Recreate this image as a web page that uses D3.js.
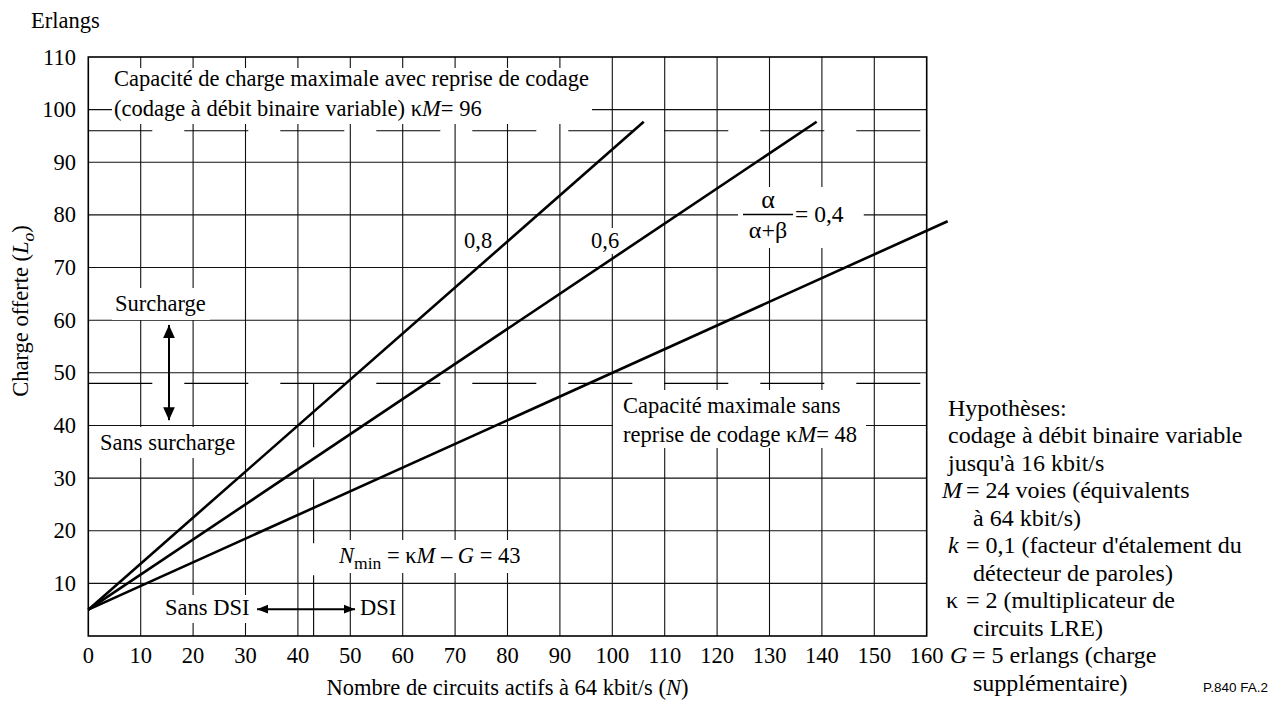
<!DOCTYPE html>
<html><head><meta charset="utf-8">
<script src="https://cdn.jsdelivr.net/npm/d3@7"></script>
<style>
html,body{margin:0;padding:0;background:#fff;}
svg{display:block;}
svg text.serif{font-family:"Liberation Serif","Times New Roman",serif;}
svg text.sans{font-family:"Liberation Sans",Arial,sans-serif;}
</style></head><body>
<svg id="c" width="1276" height="706"></svg>
<script>
// ---- data ----
const xTicks = [0,10,20,30,40,50,60,70,80,90,100,110,120,130,140,150,160];
const yTicks = [10,20,30,40,50,60,70,80,90,100,110];
const ratioLabels = ["0,8","0,6","0,4"];
const startN = [0,0,0];
const startL = [5,5,5];
const endN = [106,139,164];
const endL = [97.7,97.7,78.8];
const capacityLevels = [96,48];   // κM avec / sans reprise de codage
const nMin = 43;

const FS = 22.5;
const svg = d3.select("#c");
const x = d3.scaleLinear().domain([0,160]).range([88.3,926.7]);
const y = d3.scaleLinear().domain([0,110]).range([636,57]);

// grid
const grid = svg.append("g").attr("stroke","#111").attr("stroke-width",1.1);
grid.selectAll("line.v").data(xTicks.filter(d=>d>0&&d<160)).join("line")
  .attr("x1",d=>x(d)).attr("x2",d=>x(d)).attr("y1",y(0)).attr("y2",y(110));
grid.selectAll("line.h").data(yTicks.filter(d=>d<110)).join("line")
  .attr("y1",d=>y(d)).attr("y2",d=>y(d)).attr("x1",x(0)).attr("x2",x(160));

// dashed capacity lines
svg.append("g").selectAll("line").data(capacityLevels).join("line")
  .attr("x1",x(0)).attr("x2",x(160)).attr("y1",d=>y(d)).attr("y2",d=>y(d))
  .attr("stroke","#000").attr("stroke-width",1.1).attr("stroke-dasharray","64 32");
svg.append("line").attr("x1",x(nMin)).attr("x2",x(nMin))
  .attr("y1",y(capacityLevels[1])).attr("y2",y(0))
  .attr("stroke","#000").attr("stroke-width",1.1).attr("stroke-dasharray","64 32");

// border
svg.append("rect").attr("x",x(0)).attr("y",y(110)).attr("width",x(160)-x(0)).attr("height",y(0)-y(110))
  .attr("fill","none").attr("stroke","#000").attr("stroke-width",1.6);

// helpers
function rich(sel, parts, fs){
  let shift = 0;
  parts.forEach(p=>{
    if (typeof p === "string") p = {t:p};
    const ts = sel.append("tspan").text(p.t);
    if (p.i) ts.attr("font-style","italic");
    const want = p.sub ? 6 : 0;
    if (want !== shift){ ts.attr("dy", want-shift); shift = want; }
    ts.attr("font-size", (p.sub ? fs*0.78 : fs)+"px");
  });
}
function boxed(build, pad){
  const g = svg.append("g");
  const inner = g.append("g");
  build(inner);
  const b = inner.node().getBBox();
  g.insert("rect",":first-child").attr("fill","#fff")
    .attr("x",b.x-pad[0]).attr("y",b.y-pad[2])
    .attr("width",b.width+pad[0]+pad[1]).attr("height",b.height+pad[2]+pad[3]);
  return g;
}
function txt(g, px, py, parts, anchor, fs){
  fs = fs || FS;
  const t = g.append("text").attr("class","serif").attr("x",px).attr("y",py)
    .attr("font-size",fs+"px").attr("fill","#000");
  if (anchor) t.attr("text-anchor",anchor);
  rich(t, parts, fs);
  return t;
}

// annotations
boxed(g=>{
  txt(g,114,86,["Capacité de charge maximale avec reprise de codage"]);
  txt(g,114,116,["(codage à débit binaire variable) κ",{t:"M",i:true},"= 96"]);
},[2,3,-2,3]);

boxed(g=>{ txt(g,115,311,["Surcharge"]); },[3,4,3,4]);
boxed(g=>{ txt(g,100,450,["Sans surcharge"]); },[3,3,3,3]);

boxed(g=>{
  txt(g,623,413,["Capacité maximale sans"]);
  txt(g,623,442,["reprise de codage κ",{t:"M",i:true},"= 48"]);
},[10,9,3,1]);

boxed(g=>{
  txt(g,339,563,[{t:"N",i:true},{t:"min",sub:true}," = κ",{t:"M",i:true}," – ",{t:"G",i:true}," = 43"]);
},[4,4,3,0]);

boxed(g=>{ txt(g,165,615,["Sans DSI"]); },[3,3,0,3]);
boxed(g=>{ txt(g,360,615,["DSI"]); },[2,2,0,3]);

boxed(g=>{ txt(g,464,248,[ratioLabels[0]]); },[1,1,0,1]);
boxed(g=>{ txt(g,591,248,[ratioLabels[1]]); },[1,1,0,1]);

boxed(g=>{
  txt(g,768,208,["α"],"middle",26);
  g.append("line").attr("x1",743).attr("x2",793).attr("y1",214.5).attr("y2",214.5)
    .attr("stroke","#000").attr("stroke-width",1.3);
  txt(g,768,238,["α+β"],"middle",24);
  txt(g,795,222,["= "+ratioLabels[2]],null,23.5);
},[5,20,-2,5]);

// series lines
const lineGen = d3.line().x(d=>x(d[0])).y(d=>y(d[1]));
svg.append("g").selectAll("path").data(ratioLabels.map((r,i)=>[[startN[i],startL[i]],[endN[i],endL[i]]]))
  .join("path").attr("d",lineGen).attr("fill","none").attr("stroke","#000").attr("stroke-width",2.6);

// arrows
const defs = svg.append("defs");
defs.append("marker").attr("id","ah").attr("viewBox","0 0 10 10").attr("refX",10).attr("refY",5)
  .attr("markerWidth",13).attr("markerHeight",13).attr("markerUnits","userSpaceOnUse").attr("orient","auto-start-reverse")
  .append("path").attr("d","M0,0.5 L10,5 L0,9.5 Z").attr("fill","#000");
defs.append("marker").attr("id","ah2").attr("viewBox","0 0 10 10").attr("refX",10).attr("refY",5)
  .attr("markerWidth",11).attr("markerHeight",11).attr("markerUnits","userSpaceOnUse").attr("orient","auto-start-reverse")
  .append("path").attr("d","M0,1 L10,5 L0,9 Z").attr("fill","#000");
svg.append("line").attr("x1",x(15.4)).attr("x2",x(15.4)).attr("y1",y(41.0)).attr("y2",y(59.1))
  .attr("stroke","#000").attr("stroke-width",2).attr("marker-start","url(#ah)").attr("marker-end","url(#ah)");
svg.append("line").attr("x1",x(32.2)).attr("x2",x(50.9)).attr("y1",y(5.1)).attr("y2",y(5.1))
  .attr("stroke","#000").attr("stroke-width",2).attr("marker-start","url(#ah2)").attr("marker-end","url(#ah2)");

// tick labels
svg.append("g").selectAll("text").data(xTicks).join("text").attr("class","serif")
  .attr("x",d=>x(d)).attr("y",663).attr("text-anchor","middle")
  .attr("font-size",FS+"px").text(d=>d);
svg.append("g").selectAll("text").data(yTicks).join("text").attr("class","serif")
  .attr("x",76).attr("y",d=>y(d)+7.5).attr("text-anchor","end")
  .attr("font-size",FS+"px").text(d=>d);

// axis titles
txt(svg,31,28,["Erlangs"]);
txt(svg,(x(0)+x(160))/2,695,["Nombre de circuits actifs à 64 kbit/s (",{t:"N",i:true},")"],"middle");
const yt = svg.append("text").attr("class","serif").attr("transform","translate(28,311) rotate(-90)")
  .attr("text-anchor","middle");
rich(yt,["Charge offerte (",{t:"L",i:true},{t:"o",i:true,sub:true},")"],FS);

// hypotheses
const HF = 24;
const hx = 948, hEq = 966, hInd = 973, h0 = 415.5, hs = 27.5;
txt(svg,hx,h0,["Hypothèses:"],null,HF);
txt(svg,hx,h0+hs,["codage à débit binaire variable"],null,HF);
txt(svg,hx,h0+2*hs,["jusqu'à 16 kbit/s"],null,HF);
txt(svg,942,h0+3*hs,[{t:"M",i:true}],null,HF); txt(svg,hEq,h0+3*hs,["= 24 voies (équivalents"],null,HF);
txt(svg,hInd,h0+4*hs,["à 64 kbit/s)"],null,HF);
txt(svg,948,h0+5*hs,[{t:"k",i:true}],null,HF); txt(svg,hEq,h0+5*hs,["= 0,1 (facteur d'étalement du"],null,HF);
txt(svg,hInd,h0+6*hs,["détecteur de paroles)"],null,HF);
txt(svg,946,h0+7*hs,["κ"],null,HF); txt(svg,hEq,h0+7*hs,["= 2 (multiplicateur de"],null,HF);
txt(svg,hInd,h0+8*hs,["circuits LRE)"],null,HF);
txt(svg,950,h0+9*hs,[{t:"G",i:true}],null,HF); txt(svg,972,h0+9*hs,["= 5 erlangs (charge"],null,HF);
txt(svg,hInd,h0+10*hs,["supplémentaire)"],null,HF);
svg.append("text").attr("class","sans").attr("x",1203).attr("y",692)
  .attr("font-size","13.5px").text("P.840  FA.2");
</script>
</body></html>
